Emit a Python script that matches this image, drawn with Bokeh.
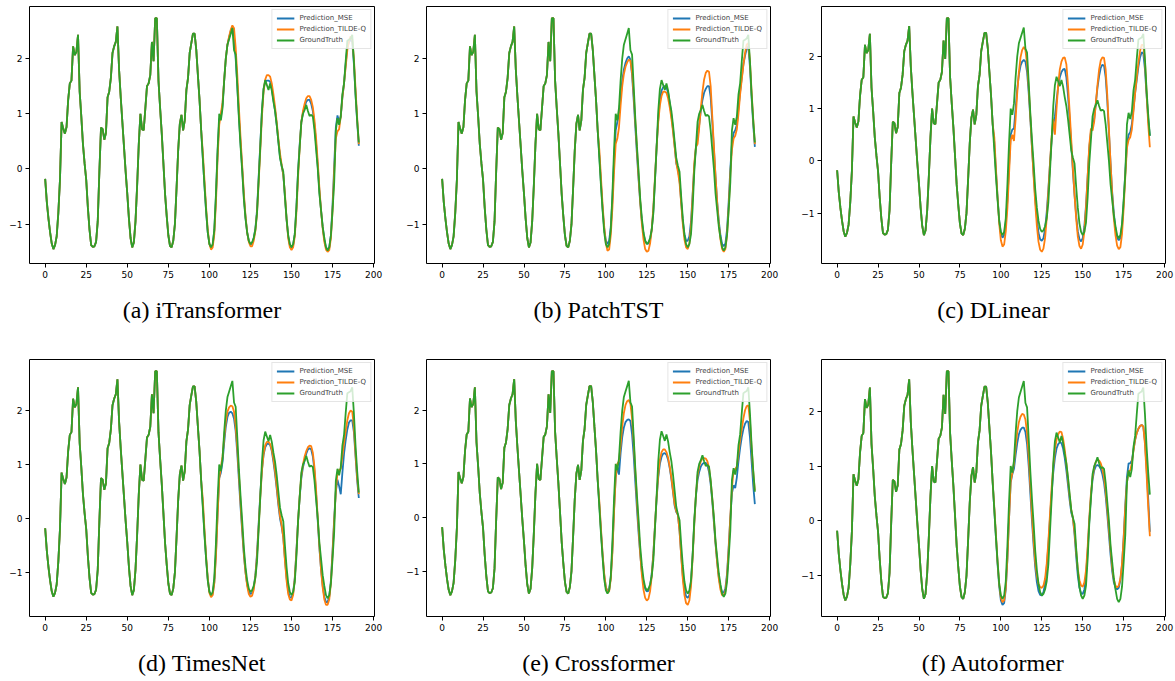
from bokeh.plotting import figure
from bokeh.layouts import gridplot
from bokeh.models import FixedTicker, Range1d, DataRange1d
from bokeh.embed import file_html
from bokeh.resources import INLINE

# ---------------- data ----------------
T = list(range(192))

GROUND_TRUTH = [
    -0.18, -0.60, -0.90, -1.15, -1.35, -1.45, -1.38, -1.22, -0.80, -0.20,
    0.85, 0.73, 0.64, 0.76, 1.25, 1.55, 1.60, 2.22, 2.06, 2.12,
    2.43, 1.40, 0.95, 0.45, 0.10, -0.20, -0.70, -1.10, -1.38, -1.41,
    -1.40, -1.32, -0.95, -0.05, 0.75, 0.72, 0.53, 0.65, 1.30, 1.40,
    1.65, 2.10, 2.22, 2.30, 2.58, 1.80, 1.30, 0.85, 0.40, -0.05,
    -0.45, -0.90, -1.25, -1.42, -1.33, -0.95, -0.30, 0.45, 1.00, 0.72,
    0.70, 1.10, 1.50, 1.55, 1.70, 2.30, 1.95, 2.73, 2.73, 1.60,
    1.10, 0.64, 0.10, -0.45, -0.85, -1.20, -1.39, -1.42, -1.30, -1.00,
    -0.35, 0.34, 0.82, 0.98, 0.70, 0.88, 1.43, 1.65, 2.10, 2.28,
    2.45, 2.45, 2.16, 1.70, 1.25, 0.70, 0.20, -0.30, -0.75, -1.15,
    -1.36, -1.42, -1.36, -1.10, -0.45, 0.35, 1.00, 0.88, 1.10, 1.60,
    2.00, 2.25, 2.35, 2.45, 2.55, 2.15, 2.07, 1.50, 0.90, 0.40,
    -0.05, -0.55, -0.90, -1.15, -1.30, -1.36, -1.33, -1.25, -1.10, -0.80,
    -0.20, 0.40, 1.05, 1.45, 1.61, 1.52, 1.43, 1.55, 1.42, 1.22,
    1.05, 0.80, 0.50, 0.20, 0.06, -0.05, -0.50, -0.90, -1.20, -1.36,
    -1.42, -1.36, -1.18, -0.70, -0.05, 0.40, 0.85, 1.00, 1.07, 1.16,
    1.05, 0.96, 0.98, 0.95, 0.70, 0.35, 0.00, -0.45, -0.75, -1.05,
    -1.25, -1.42, -1.48, -1.42, -1.20, -0.75, -0.25, 0.70, 0.92, 0.80,
    0.95, 1.35, 1.55, 1.95, 2.32, 2.34, 2.36, 2.43, 1.95, 1.35,
    0.88, 0.48,
]

# predictions for t = 96 .. 191 (earlier part equals the input window)
ITRANSFORMER_MSE = [
    0.20, -0.30, -0.78, -1.15, -1.35, -1.42, -1.38, -1.12, -0.50, 0.30,
    0.90, 0.95, 1.15, 1.60, 2.00, 2.25, 2.38, 2.50, 2.57, 2.40,
    2.00, 1.50, 0.95, 0.45, 0.00, -0.50, -0.88, -1.15, -1.30, -1.37,
    -1.35, -1.25, -1.08, -0.75, -0.15, 0.45, 1.05, 1.45, 1.58, 1.60,
    1.60, 1.58, 1.45, 1.25, 1.05, 0.80, 0.50, 0.22, 0.05, -0.10,
    -0.50, -0.92, -1.22, -1.38, -1.42, -1.38, -1.18, -0.70, -0.05, 0.45,
    0.85, 1.02, 1.12, 1.22, 1.25, 1.25, 1.18, 1.05, 0.80, 0.45,
    0.05, -0.40, -0.75, -1.05, -1.28, -1.42, -1.46, -1.42, -1.20, -0.65,
    0.05, 0.75, 0.97, 0.85, 0.95, 1.30, 1.55, 1.90, 2.20, 2.30,
    2.35, 2.30, 1.90, 1.35, 0.85, 0.42,
]
ITRANSFORMER_TQ = [
    0.30, -0.20, -0.70, -1.10, -1.36, -1.46, -1.42, -1.18, -0.60, 0.20,
    0.80, 1.00, 1.20, 1.60, 2.00, 2.25, 2.40, 2.52, 2.60, 2.55,
    2.20, 1.70, 1.10, 0.55, 0.05, -0.45, -0.85, -1.15, -1.32, -1.40,
    -1.40, -1.30, -1.12, -0.80, -0.25, 0.35, 0.95, 1.40, 1.62, 1.70,
    1.70, 1.67, 1.55, 1.35, 1.12, 0.85, 0.55, 0.28, 0.08, -0.10,
    -0.45, -0.90, -1.25, -1.42, -1.47, -1.42, -1.22, -0.78, -0.15, 0.40,
    0.85, 1.05, 1.18, 1.28, 1.32, 1.32, 1.25, 1.12, 0.88, 0.55,
    0.12, -0.35, -0.75, -1.08, -1.32, -1.46, -1.50, -1.47, -1.25, -0.75,
    -0.05, 0.55, 0.68, 0.72, 0.95, 1.30, 1.55, 1.85, 2.15, 2.32,
    2.40, 2.35, 2.00, 1.45, 0.92, 0.45,
]
PATCHTST_MSE = [
    0.25, -0.25, -0.72, -1.08, -1.30, -1.36, -1.30, -1.05, -0.55, 0.15,
    0.70, 0.85, 1.00, 1.30, 1.60, 1.80, 1.92, 2.00, 2.04, 1.98,
    1.70, 1.25, 0.75, 0.25, -0.20, -0.62, -0.95, -1.18, -1.30, -1.35,
    -1.35, -1.28, -1.10, -0.75, -0.20, 0.40, 0.90, 1.25, 1.42, 1.48,
    1.50, 1.48, 1.38, 1.20, 0.98, 0.72, 0.42, 0.10, 0.00, -0.20,
    -0.60, -0.95, -1.18, -1.30, -1.30, -1.22, -0.95, -0.45, 0.05, 0.38,
    0.55, 0.80, 1.05, 1.25, 1.38, 1.45, 1.50, 1.50, 1.30, 0.85,
    0.35, -0.15, -0.60, -0.95, -1.20, -1.36, -1.40, -1.35, -1.10, -0.60,
    0.00, 0.45, 0.65, 0.70, 0.80, 1.10, 1.40, 1.65, 1.90, 2.05,
    2.18, 2.22, 1.85, 1.30, 0.80, 0.40,
]
PATCHTST_TQ = [
    0.35, -0.15, -0.65, -1.05, -1.35, -1.48, -1.46, -1.20, -0.70, -0.05,
    0.45, 0.55, 0.75, 1.15, 1.50, 1.72, 1.85, 1.93, 1.98, 1.96,
    1.75, 1.35, 0.85, 0.35, -0.15, -0.60, -1.00, -1.28, -1.45, -1.50,
    -1.48, -1.35, -1.10, -0.70, -0.15, 0.40, 0.85, 1.15, 1.32, 1.40,
    1.40, 1.38, 1.28, 1.12, 0.92, 0.68, 0.40, 0.12, -0.05, -0.25,
    -0.62, -1.00, -1.28, -1.42, -1.45, -1.35, -1.05, -0.50, 0.10, 0.40,
    0.45, 0.75, 1.10, 1.40, 1.62, 1.74, 1.78, 1.76, 1.50, 0.95,
    0.40, -0.15, -0.62, -1.00, -1.28, -1.45, -1.50, -1.45, -1.20, -0.70,
    -0.10, 0.35, 0.55, 0.60, 0.72, 1.00, 1.35, 1.62, 1.88, 2.10,
    2.25, 2.28, 1.95, 1.40, 0.90, 0.45,
]
DLINEAR_MSE = [
    0.35, -0.20, -0.70, -1.15, -1.40, -1.47, -1.42, -1.18, -0.75, -0.10,
    0.50, 0.60, 0.62, 1.00, 1.38, 1.65, 1.82, 1.90, 1.93, 1.90,
    1.70, 1.30, 0.80, 0.25, -0.25, -0.72, -1.10, -1.38, -1.50, -1.53,
    -1.48, -1.30, -0.98, -0.55, -0.05, 0.40, 0.70, 0.85, 1.15, 1.42,
    1.60, 1.70, 1.75, 1.76, 1.60, 1.25, 0.80, 0.30, -0.20, -0.65,
    -1.05, -1.35, -1.50, -1.54, -1.48, -1.25, -0.85, -0.30, 0.25, 0.55,
    0.65, 0.80, 1.10, 1.40, 1.62, 1.78, 1.84, 1.82, 1.60, 1.15,
    0.55, -0.05, -0.60, -1.00, -1.30, -1.47, -1.52, -1.48, -1.25, -0.80,
    -0.20, 0.30, 0.50, 0.55, 0.70, 1.00, 1.30, 1.55, 1.80, 1.98,
    2.08, 2.05, 1.75, 1.25, 0.80, 0.48,
]
DLINEAR_TQ = [
    0.45, -0.15, -0.70, -1.20, -1.52, -1.64, -1.60, -1.35, -0.90, -0.25,
    0.40, 0.50, 0.38, 0.80, 1.30, 1.70, 1.98, 2.12, 2.18, 2.12,
    1.85, 1.40, 0.85, 0.25, -0.30, -0.82, -1.25, -1.55, -1.70, -1.74,
    -1.68, -1.48, -1.10, -0.60, -0.05, 0.45, 0.80, 0.50, 1.00, 1.45,
    1.75, 1.90, 1.97, 1.98, 1.85, 1.45, 0.95, 0.40, -0.15, -0.65,
    -1.10, -1.45, -1.63, -1.68, -1.60, -1.35, -0.90, -0.30, 0.30, 0.62,
    0.58, 0.75, 1.10, 1.45, 1.75, 1.92, 1.98, 1.97, 1.75, 1.25,
    0.60, -0.05, -0.65, -1.10, -1.42, -1.62, -1.69, -1.65, -1.40, -0.90,
    -0.30, 0.25, 0.40, 0.45, 0.60, 0.95, 1.30, 1.60, 1.88, 2.10,
    2.22, 2.22, 1.90, 1.30, 0.70, 0.26,
]
TIMESNET_MSE = [
    0.25, -0.28, -0.75, -1.12, -1.35, -1.42, -1.40, -1.18, -0.65, 0.10,
    0.75, 0.85, 1.05, 1.40, 1.70, 1.88, 1.96, 1.98, 1.95, 1.85,
    1.62, 1.20, 0.70, 0.20, -0.25, -0.68, -1.00, -1.22, -1.35, -1.40,
    -1.38, -1.28, -1.05, -0.65, -0.10, 0.45, 0.90, 1.18, 1.32, 1.38,
    1.39, 1.36, 1.25, 1.05, 0.82, 0.55, 0.25, 0.00, -0.15, -0.35,
    -0.75, -1.10, -1.35, -1.46, -1.47, -1.38, -1.10, -0.60, -0.05, 0.40,
    0.75, 0.95, 1.08, 1.20, 1.28, 1.30, 1.28, 1.15, 0.88, 0.45,
    -0.05, -0.55, -0.95, -1.25, -1.45, -1.55, -1.55, -1.45, -1.15, -0.60,
    0.00, 0.50, 0.72, 0.60, 0.45, 0.85, 1.20, 1.45, 1.65, 1.78,
    1.82, 1.82, 1.60, 1.15, 0.70, 0.38,
]
TIMESNET_TQ = [
    0.35, -0.20, -0.70, -1.10, -1.38, -1.46, -1.42, -1.20, -0.70, 0.05,
    0.75, 0.95, 1.15, 1.50, 1.80, 1.98, 2.06, 2.09, 2.08, 1.98,
    1.72, 1.30, 0.80, 0.28, -0.20, -0.65, -1.00, -1.25, -1.40, -1.45,
    -1.43, -1.32, -1.08, -0.70, -0.15, 0.40, 0.88, 1.20, 1.36, 1.42,
    1.42, 1.38, 1.28, 1.10, 0.88, 0.60, 0.30, 0.05, -0.12, -0.35,
    -0.78, -1.15, -1.40, -1.50, -1.52, -1.42, -1.12, -0.62, -0.05, 0.42,
    0.80, 1.00, 1.15, 1.25, 1.32, 1.35, 1.34, 1.22, 0.95, 0.52,
    0.00, -0.52, -0.95, -1.28, -1.50, -1.60, -1.60, -1.50, -1.20, -0.65,
    -0.05, 0.50, 0.85, 0.90, 0.92, 1.15, 1.40, 1.62, 1.82, 1.95,
    2.00, 1.98, 1.70, 1.20, 0.75, 0.45,
]
CROSSFORMER_MSE = [
    0.25, -0.25, -0.70, -1.08, -1.30, -1.38, -1.35, -1.12, -0.60, 0.15,
    0.75, 0.95, 0.80, 1.20, 1.50, 1.68, 1.78, 1.82, 1.83, 1.80,
    1.55, 1.15, 0.65, 0.15, -0.30, -0.70, -1.02, -1.22, -1.33, -1.38,
    -1.37, -1.28, -1.05, -0.68, -0.15, 0.35, 0.75, 1.00, 1.13, 1.19,
    1.20, 1.17, 1.08, 0.92, 0.72, 0.48, 0.22, 0.10, 0.05, -0.25,
    -0.70, -1.10, -1.35, -1.47, -1.50, -1.45, -1.20, -0.70, -0.10, 0.40,
    0.70, 0.85, 0.95, 1.00, 1.02, 1.02, 0.98, 0.85, 0.62, 0.30,
    -0.10, -0.50, -0.85, -1.12, -1.30, -1.40, -1.40, -1.32, -1.05, -0.55,
    0.00, 0.45, 0.60, 0.55, 0.75, 1.05, 1.30, 1.50, 1.65, 1.75,
    1.80, 1.78, 1.50, 1.05, 0.60, 0.25,
]
CROSSFORMER_TQ = [
    0.30, -0.20, -0.68, -1.05, -1.30, -1.40, -1.38, -1.15, -0.65, 0.10,
    0.75, 1.00, 1.05, 1.35, 1.70, 1.95, 2.10, 2.17, 2.19, 2.12,
    1.85, 1.40, 0.85, 0.30, -0.20, -0.68, -1.08, -1.35, -1.50, -1.55,
    -1.52, -1.38, -1.10, -0.70, -0.15, 0.38, 0.80, 1.08, 1.22, 1.27,
    1.27, 1.22, 1.12, 0.95, 0.75, 0.50, 0.25, 0.12, 0.05, -0.25,
    -0.72, -1.15, -1.45, -1.60, -1.63, -1.55, -1.28, -0.75, -0.12, 0.42,
    0.78, 0.95, 1.05, 1.10, 1.11, 1.10, 1.05, 0.92, 0.68, 0.35,
    -0.05, -0.48, -0.85, -1.15, -1.35, -1.45, -1.45, -1.38, -1.10, -0.60,
    0.00, 0.55, 0.88, 0.90, 0.95, 1.20, 1.45, 1.65, 1.85, 2.00,
    2.08, 2.09, 1.80, 1.30, 0.85, 0.50,
]
AUTOFORMER_MSE = [
    0.20, -0.30, -0.80, -1.20, -1.45, -1.53, -1.50, -1.25, -0.70, 0.05,
    0.70, 0.85, 0.95, 1.20, 1.42, 1.58, 1.66, 1.70, 1.70, 1.62,
    1.40, 1.00, 0.50, 0.00, -0.45, -0.85, -1.12, -1.28, -1.35, -1.36,
    -1.30, -1.15, -0.85, -0.45, 0.05, 0.50, 0.88, 1.15, 1.32, 1.40,
    1.43, 1.42, 1.32, 1.15, 0.92, 0.65, 0.38, 0.15, 0.05, -0.25,
    -0.65, -1.00, -1.22, -1.32, -1.33, -1.25, -1.00, -0.55, 0.00, 0.45,
    0.75, 0.92, 1.00, 1.02, 1.00, 0.95, 0.85, 0.70, 0.45, 0.12,
    -0.25, -0.62, -0.92, -1.12, -1.22, -1.25, -1.22, -1.08, -0.80, -0.30,
    0.30, 0.80, 1.05, 1.05, 1.10, 1.30, 1.48, 1.60, 1.68, 1.73,
    1.75, 1.72, 1.45, 0.95, 0.40, -0.20,
]
AUTOFORMER_TQ = [
    0.25, -0.25, -0.75, -1.15, -1.40, -1.48, -1.45, -1.22, -0.68, 0.05,
    0.72, 0.88, 1.05, 1.35, 1.62, 1.80, 1.90, 1.95, 1.94, 1.85,
    1.60, 1.18, 0.65, 0.12, -0.35, -0.75, -1.00, -1.15, -1.21, -1.22,
    -1.18, -1.05, -0.78, -0.38, 0.12, 0.60, 1.00, 1.30, 1.48, 1.58,
    1.63, 1.62, 1.50, 1.30, 1.05, 0.75, 0.45, 0.20, 0.05, -0.20,
    -0.55, -0.88, -1.08, -1.18, -1.20, -1.12, -0.90, -0.48, 0.05, 0.50,
    0.80, 0.98, 1.08, 1.12, 1.10, 1.05, 0.95, 0.80, 0.55, 0.22,
    -0.15, -0.52, -0.85, -1.07, -1.18, -1.21, -1.18, -1.05, -0.78, -0.32,
    0.25, 0.70, 0.90, 0.92, 1.05, 1.28, 1.48, 1.60, 1.68, 1.73,
    1.75, 1.72, 1.40, 0.85, 0.25, -0.28,
]

CAPTIONS = ["(a) iTransformer", "(b) PatchTST", "(c) DLinear",
            "(d) TimesNet", "(e) Crossformer", "(f) Autoformer"]
MSE_SETS = [ITRANSFORMER_MSE, PATCHTST_MSE, DLINEAR_MSE,
            TIMESNET_MSE, CROSSFORMER_MSE, AUTOFORMER_MSE]
TQ_SETS = [ITRANSFORMER_TQ, PATCHTST_TQ, DLINEAR_TQ,
           TIMESNET_TQ, CROSSFORMER_TQ, AUTOFORMER_TQ]
X_TICKS = [0, 25, 50, 75, 100, 125, 150, 175, 200]
Y_TICKS = [-1, 0, 1, 2]
LABELS = ["Prediction_MSE", "Prediction_TILDE-Q", "GroundTruth"]

# ---------------- styling ----------------
BLUE, ORANGE, GREEN = "#1f77b4", "#ff7f0e", "#2ca02c"
COL_W = [403, 395, 377]
COL_LEFT = [29, 21, 21]
COL_RIGHT = [29, 28, 10]
ROW_H = [353, 328]
ROW_BOTTOM = [90, 65]


def make_panel(idx):
    r, c = divmod(idx, 3)
    mse = GROUND_TRUTH[:96] + MSE_SETS[idx]
    tq = GROUND_TRUTH[:96] + TQ_SETS[idx]
    p = figure(width=COL_W[c], height=ROW_H[r], output_backend="svg",
               toolbar_location=None, tools="",
               x_range=Range1d(-9.55, 200.55),
               y_range=DataRange1d(range_padding=0.1),
               min_border_left=COL_LEFT[c], min_border_right=COL_RIGHT[c],
               min_border_top=6, min_border_bottom=ROW_BOTTOM[r])
    p.line(T, mse, color=BLUE, line_width=1.8, legend_label=LABELS[0])
    p.line(T, tq, color=ORANGE, line_width=1.8, legend_label=LABELS[1])
    p.line(T, GROUND_TRUTH, color=GREEN, line_width=1.8, legend_label=LABELS[2])

    p.grid.visible = False
    p.outline_line_color = "black"
    p.outline_line_width = 1
    p.background_fill_color = "white"
    p.border_fill_color = "white"

    for ax in (p.xaxis[0], p.yaxis[0]):
        ax.axis_line_color = None
        ax.major_tick_line_color = "black"
        ax.major_tick_out = 4
        ax.major_tick_in = 0
        ax.minor_tick_line_color = None
        ax.major_label_text_font = "DejaVu Sans"
        ax.major_label_text_font_size = "9px"
        ax.major_label_text_color = "black"
        ax.major_label_standoff = 3
    xa = p.xaxis[0]
    xa.ticker = FixedTicker(ticks=X_TICKS)
    xa.axis_label = CAPTIONS[idx]
    xa.axis_label_text_font = "Liberation Serif"
    xa.axis_label_text_font_size = "24px"
    xa.axis_label_text_font_style = "normal"
    xa.axis_label_text_color = "black"
    xa.axis_label_standoff = 16
    p.yaxis[0].ticker = FixedTicker(ticks=Y_TICKS)
    p.yaxis[0].major_label_overrides = {-1: "\u22121"}

    lg = p.legend[0]
    lg.location = "top_right"
    lg.label_text_font = "DejaVu Sans"
    lg.label_text_font_size = "7px"
    lg.glyph_width = 18
    lg.glyph_height = 8
    lg.label_height = 8
    lg.label_standoff = 5
    lg.spacing = 3
    lg.padding = 4
    lg.margin = 3
    lg.border_line_color = "#cccccc"
    lg.border_line_width = 1
    lg.background_fill_alpha = 0.8
    return p


panels = [make_panel(i) for i in range(6)]
grid = gridplot([panels[:3], panels[3:]], toolbar_location=None)

open("out.html", "w").write(file_html(grid, INLINE))
